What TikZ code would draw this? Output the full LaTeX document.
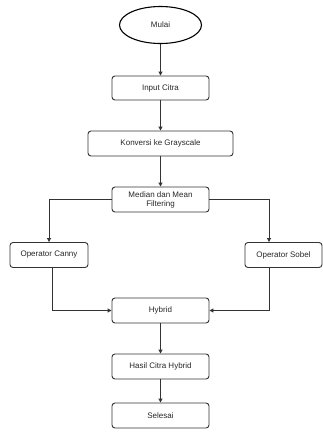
\documentclass[tikz,border=0pt]{standalone}
\usepackage{fontspec}
\setmainfont{Liberation Sans}
\usetikzlibrary{shapes.geometric,arrows.meta}
\begin{document}
\begin{tikzpicture}[x=1pt,y=-1pt,
  box/.style={draw=black!80,line width=0.9pt,rounded corners=3pt,align=center,inner sep=0pt,font=\fontsize{8}{9}\selectfont,text=black!85},
  conn/.style={draw=black!80,line width=0.9pt,-{Triangle[length=4pt,width=4pt]}}]
\useasboundingbox (0,0) rectangle (322,432);
\node[draw=black,line width=1.1pt,ellipse,minimum width=82pt,minimum height=37pt,inner sep=0pt,font=\fontsize{8}{9}\selectfont,text=black!85] (mulai) at (160.5,25) {Mulai};
\node[box,minimum width=97pt,minimum height=24pt] (input) at (160.5,88) {Input Citra};
\node[box,minimum width=145pt,minimum height=25pt] (konv) at (160.5,143.5) {Konversi ke Grayscale};
\node[box,minimum width=97pt,minimum height=25pt] (median) at (160.5,199.5) {Median dan Mean\\Filtering};
\node[box,minimum width=78pt,minimum height=25pt] (canny) at (49,255) {Operator Canny};
\node[box,minimum width=77pt,minimum height=25pt] (sobel) at (283.5,255) {Operator Sobel};
\node[box,minimum width=97pt,minimum height=25pt] (hybrid) at (160.5,310.5) {Hybrid};
\node[box,minimum width=97pt,minimum height=25pt] (hasil) at (160.5,366.5) {Hasil Citra Hybrid};
\node[box,minimum width=97pt,minimum height=25pt] (selesai) at (160.5,415.5) {Selesai};
\draw[conn] (mulai) -- (input);
\draw[conn] (input) -- (konv);
\draw[conn] (konv) -- (median);
\draw[conn] (median.west) -| (canny.north);
\draw[conn] (median.east) -| (sobel.north -| 269,0);
\draw[conn] (canny.south -| 52.7,0) |- (hybrid.west);
\draw[conn] (sobel.south -| 269,0) |- (hybrid.east);
\draw[conn] (hybrid) -- (hasil);
\draw[conn] (hasil) -- (selesai);
\end{tikzpicture}
\end{document}
